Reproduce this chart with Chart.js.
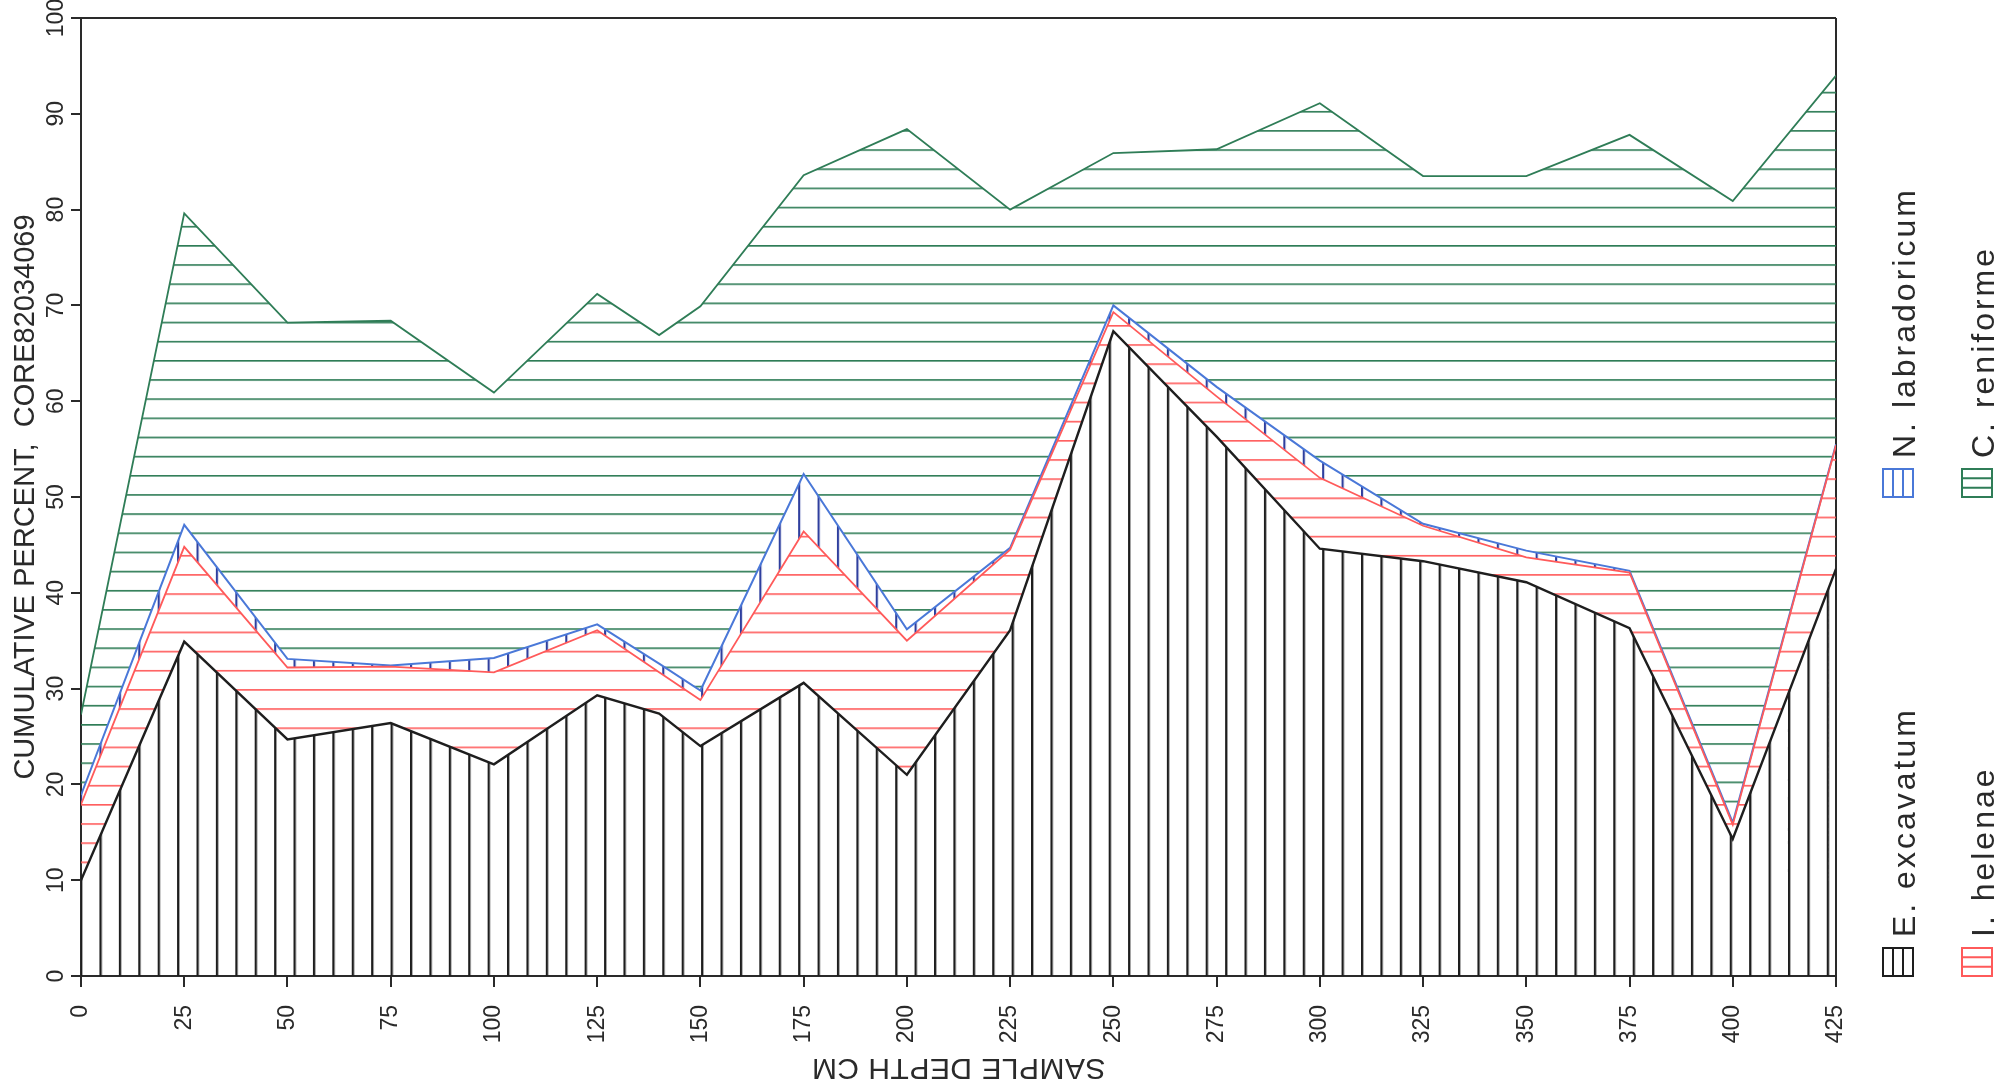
<!DOCTYPE html>
<html>
<head>
<meta charset="utf-8">
<title>Cumulative percent, CORE82034069</title>
<script src="https://cdn.jsdelivr.net/npm/chart.js@4.4.1/dist/chart.umd.min.js"></script>
<style>
    html, body { margin: 0; padding: 0; background: #ffffff; }
    #wrap { width: 2001px; height: 1092px; }
</style>
</head>
<body>
<div id="wrap"><canvas id="chart" width="2001" height="1092"></canvas></div>
<script>
// sample depths (cm) and cumulative percentages
const depths = [0, 25, 50, 75, 100, 125, 140, 150, 175, 200, 225, 250, 275, 300, 325, 350, 375, 400, 425];
const excavatum    = [10.0, 34.9, 24.7, 26.4, 22.1, 29.3, 27.4, 24.0, 30.6, 21.0, 36.1, 67.3, 56.3, 44.6, 43.3, 41.1, 36.3, 14.3, 42.5];
const helenae      = [17.9, 44.8, 32.2, 32.3, 31.7, 36.1, 31.7, 28.8, 46.4, 35.0, 44.5, 69.3, 60.5, 52.0, 47.0, 43.7, 42.1, 15.8, 55.4];
const labradoricum = [18.9, 47.1, 33.1, 32.4, 33.2, 36.7, 32.6, 29.8, 52.4, 36.2, 44.7, 70.0, 61.5, 53.8, 47.2, 44.4, 42.3, 16.0, 55.5];
const reniforme    = [27.3, 79.6, 68.2, 68.4, 60.9, 71.2, 66.9, 69.9, 83.6, 88.4, 80.0, 85.9, 86.3, 91.1, 83.5, 83.5, 87.8, 80.9, 94.0];

const seriesLabels = ['E. excavatum', 'I. helenae', 'N. labradoricum', 'C. reniforme'];
const xTickValues = [0, 25, 50, 75, 100, 125, 150, 175, 200, 225, 250, 275, 300, 325, 350, 375, 400, 425];
const yTickValues = [0, 10, 20, 30, 40, 50, 60, 70, 80, 90, 100];

const ink = '#2a2a2a';
const fontFamily = '"Liberation Sans", Arial, sans-serif';
const lineColors = ['#1e1e1e', '#ff5a5a', '#4a78d8', '#2f7d57'];
const hatchColors = ['#1e1e1e', '#ff5f5f', '#2f3f9e', '#2f7d57'];

const TILE = 20;

function makeHatch(color, vertical, width) {
    const tile = document.createElement('canvas');
    tile.width = TILE;
    tile.height = TILE;
    const g = tile.getContext('2d');
    g.fillStyle = color;
    if (vertical) g.fillRect(0, 0, width, TILE);
    else g.fillRect(0, 0, TILE, width);
    return g.createPattern(tile, 'repeat');
}

// hatch spacing is given in data units so it follows the scales
const hatches = [
    { pattern: makeHatch(hatchColors[0], true, 2.4), vertical: true, step: 4.7, offset: 0 },
    { pattern: makeHatch(hatchColors[1], false, 1.7), vertical: false, step: 2, offset: -0.15 },
    { pattern: makeHatch(hatchColors[2], true, 2.2), vertical: true, step: 4.7, offset: 0 },
    { pattern: makeHatch(hatchColors[3], false, 1.7), vertical: false, step: 2, offset: 0.2 }
];

const seriesValues = [excavatum, helenae, labradoricum, reniforme];
const lineWidths = [2.4, 1.8, 2, 1.8];

const datasets = seriesValues.map((values, i) => ({
    label: seriesLabels[i],
    data: depths.map((d, j) => ({ x: d, y: values[j] })),
    borderColor: lineColors[i],
    borderWidth: lineWidths[i],
    backgroundColor: hatches[i].pattern,
    fill: i === 0 ? 'origin' : '-1',
    pointRadius: 0,
    tension: 0
}));

const hatchAlign = {
    id: 'hatchAlign',
    beforeDraw(chart) {
        const x = chart.scales.x;
        const y = chart.scales.y;
        hatches.forEach(h => {
            if (h.vertical) {
                const p0 = x.getPixelForValue(h.offset);
                const p1 = x.getPixelForValue(h.offset + h.step);
                h.pattern.setTransform(new DOMMatrix([(p1 - p0) / TILE, 0, 0, 1, p0 - 1, 0]));
            } else {
                const p0 = y.getPixelForValue(h.offset);
                const p1 = y.getPixelForValue(h.offset + h.step);
                h.pattern.setTransform(new DOMMatrix([1, 0, 0, (p0 - p1) / TILE, 0, p0 - 1]));
            }
        });
    }
};

// rotated legend on the right and the upside-down depth title
const sideText = {
    id: 'sideText',
    afterDraw(chart) {
        const ctx = chart.ctx;
        const area = chart.chartArea;
        const xs = chart.scales.x;

        ctx.save();
        ctx.translate((area.left + area.right) / 2, xs.bottom - 25);
        ctx.rotate(Math.PI);
        ctx.font = '30px ' + fontFamily;
        ctx.letterSpacing = '0.5px';
        ctx.fillStyle = ink;
        ctx.textAlign = 'center';
        ctx.textBaseline = 'middle';
        ctx.fillText('SAMPLE DEPTH CM', 0, 0);
        ctx.restore();

        const rowBase = [area.bottom, area.top + area.height / 2];
        const colX = [area.right + 62, area.right + 141];
        const w = 30, h = 28;
        chart.data.datasets.forEach((ds, i) => {
            const cx = colX[i % 2];
            const base = rowBase[Math.floor(i / 2)];
            const left = cx - w / 2;
            const top = base - h;

            ctx.save();
            ctx.strokeStyle = lineColors[i];
            ctx.lineWidth = 2;
            ctx.strokeRect(left, top, w, h);
            ctx.beginPath();
            if (hatches[i].vertical) {
                ctx.moveTo(left + w / 3, top); ctx.lineTo(left + w / 3, base);
                ctx.moveTo(left + 2 * w / 3, top); ctx.lineTo(left + 2 * w / 3, base);
            } else {
                ctx.moveTo(left, top + h / 3); ctx.lineTo(left + w, top + h / 3);
                ctx.moveTo(left, top + 2 * h / 3); ctx.lineTo(left + w, top + 2 * h / 3);
            }
            ctx.stroke();

            ctx.translate(cx + 17, top - 11);
            ctx.rotate(-Math.PI / 2);
            ctx.font = '32px ' + fontFamily;
            ctx.letterSpacing = '3px';
            ctx.fillStyle = ink;
            ctx.textAlign = 'left';
            ctx.textBaseline = 'alphabetic';
            ctx.fillText(ds.label, 0, 0);
            ctx.restore();
        });
    }
};

new Chart(document.getElementById('chart'), {
    type: 'line',
    data: { datasets },
    options: {
        responsive: false,
        animation: false,
        devicePixelRatio: 1,
        layout: { padding: { left: 0, right: 165, top: 18, bottom: 0 } },
        plugins: {
            legend: { display: false },
            tooltip: { enabled: false }
        },
        scales: {
            x: {
                type: 'linear',
                min: 0,
                max: 425,
                afterFit: s => { s.height = 116; },
                afterBuildTicks: s => { s.ticks = xTickValues.map(v => ({ value: v })); },
                ticks: {
                    autoSkip: false,
                    minRotation: 90,
                    maxRotation: 90,
                    padding: 18,
                    color: ink,
                    font: { family: fontFamily, size: 23 }
                },
                grid: {
                    color: c => (c.tick && c.tick.value === 425 ? ink : 'rgba(0,0,0,0)'),
                    tickColor: ink,
                    tickLength: 11,
                    lineWidth: 2
                },
                border: { color: ink, width: 2 }
            },
            y: {
                type: 'linear',
                min: 0,
                max: 100,
                afterFit: s => { s.width = 81; },
                afterBuildTicks: s => { s.ticks = yTickValues.map(v => ({ value: v })); },
                ticks: {
                    minRotation: 90,
                    crossAlign: 'center',
                    padding: -5,
                    color: ink,
                    font: { family: fontFamily, size: 23 }
                },
                grid: {
                    color: c => (c.tick && c.tick.value === 100 ? ink : 'rgba(0,0,0,0)'),
                    tickColor: ink,
                    tickLength: 10,
                    lineWidth: 2
                },
                border: { color: ink, width: 2 },
                title: {
                    display: true,
                    text: 'CUMULATIVE PERCENT,  CORE82034069',
                    color: ink,
                    font: { family: fontFamily, size: 29 },
                    padding: { top: 9, bottom: 0 }
                }
            }
        }
    },
    plugins: [hatchAlign, sideText]
});
</script>
</body>
</html>
